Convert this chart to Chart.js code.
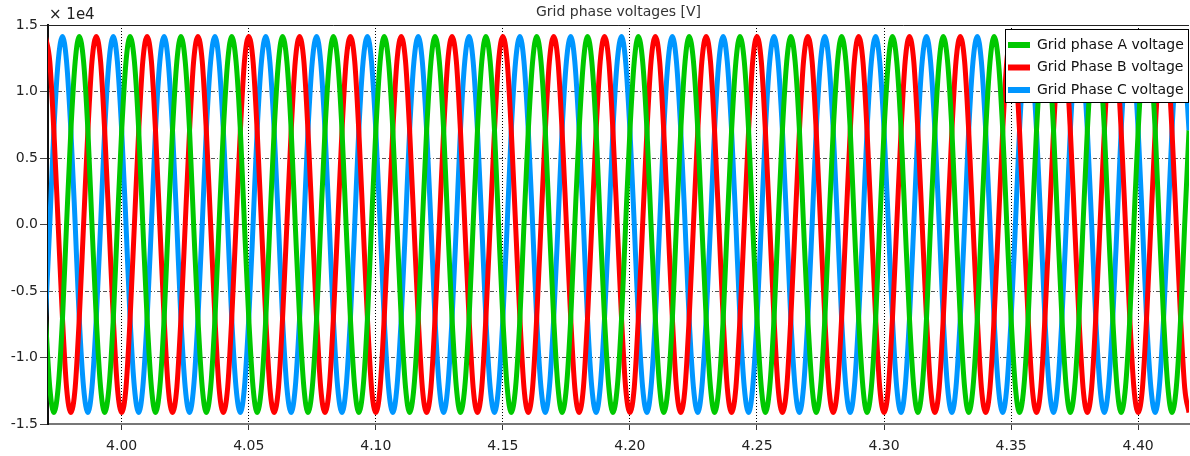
<!DOCTYPE html>
<html>
<head>
<meta charset="utf-8">
<script src="https://cdn.jsdelivr.net/npm/chart.js@4/dist/chart.umd.min.js"></script>
<style>
  body { margin: 0; background: #fff; }
  #wrap { width: 1190px; height: 456px; }
</style>
</head>
<body>
<div id="wrap"><canvas id="myChart" width="1190" height="456"></canvas></div>
<script>
// sample times [s] (50 Hz, 12 samples per cycle)
const times = [
  3.9700,3.9717,3.9733,3.9750,3.9767,3.9783,3.9800,3.9817,3.9833,3.9850,3.9867,3.9883,
  3.9900,3.9917,3.9933,3.9950,3.9967,3.9983,4.0000,4.0017,4.0033,4.0050,4.0067,4.0083,
  4.0100,4.0117,4.0133,4.0150,4.0167,4.0183,4.0200,4.0217,4.0233,4.0250,4.0267,4.0283,
  4.0300,4.0317,4.0333,4.0350,4.0367,4.0383,4.0400,4.0417,4.0433,4.0450,4.0467,4.0483,
  4.0500,4.0517,4.0533,4.0550,4.0567,4.0583,4.0600,4.0617,4.0633,4.0650,4.0667,4.0683,
  4.0700,4.0717,4.0733,4.0750,4.0767,4.0783,4.0800,4.0817,4.0833,4.0850,4.0867,4.0883,
  4.0900,4.0917,4.0933,4.0950,4.0967,4.0983,4.1000,4.1017,4.1033,4.1050,4.1067,4.1083,
  4.1100,4.1117,4.1133,4.1150,4.1167,4.1183,4.1200,4.1217,4.1233,4.1250,4.1267,4.1283,
  4.1300,4.1317,4.1333,4.1350,4.1367,4.1383,4.1400,4.1417,4.1433,4.1450,4.1467,4.1483,
  4.1500,4.1517,4.1533,4.1550,4.1567,4.1583,4.1600,4.1617,4.1633,4.1650,4.1667,4.1683,
  4.1700,4.1717,4.1733,4.1750,4.1767,4.1783,4.1800,4.1817,4.1833,4.1850,4.1867,4.1883,
  4.1900,4.1917,4.1933,4.1950,4.1967,4.1983,4.2000,4.2017,4.2033,4.2050,4.2067,4.2083,
  4.2100,4.2117,4.2133,4.2150,4.2167,4.2183,4.2200,4.2217,4.2233,4.2250,4.2267,4.2283,
  4.2300,4.2317,4.2333,4.2350,4.2367,4.2383,4.2400,4.2417,4.2433,4.2450,4.2467,4.2483,
  4.2500,4.2517,4.2533,4.2550,4.2567,4.2583,4.2600,4.2617,4.2633,4.2650,4.2667,4.2683,
  4.2700,4.2717,4.2733,4.2750,4.2767,4.2783,4.2800,4.2817,4.2833,4.2850,4.2867,4.2883,
  4.2900,4.2917,4.2933,4.2950,4.2967,4.2983,4.3000,4.3017,4.3033,4.3050,4.3067,4.3083,
  4.3100,4.3117,4.3133,4.3150,4.3167,4.3183,4.3200,4.3217,4.3233,4.3250,4.3267,4.3283,
  4.3300,4.3317,4.3333,4.3350,4.3367,4.3383,4.3400,4.3417,4.3433,4.3450,4.3467,4.3483,
  4.3500,4.3517,4.3533,4.3550,4.3567,4.3583,4.3600,4.3617,4.3633,4.3650,4.3667,4.3683,
  4.3700,4.3717,4.3733,4.3750,4.3767,4.3783,4.3800,4.3817,4.3833,4.3850,4.3867,4.3883,
  4.3900,4.3917,4.3933,4.3950,4.3967,4.3983,4.4000,4.4017,4.4033,4.4050,4.4067,4.4083,
  4.4100,4.4117,4.4133,4.4150,4.4167,4.4183,4.4200
];

// voltages in units of 1e4 V
const phaseA = [
  -0.707,-1.225,-1.414,-1.225,-0.707,0,0.707,1.225,1.414,1.225,0.707,0,
  -0.707,-1.225,-1.414,-1.225,-0.707,0,0.707,1.225,1.414,1.225,0.707,0,
  -0.707,-1.225,-1.414,-1.225,-0.707,0,0.707,1.225,1.414,1.225,0.707,0,
  -0.707,-1.225,-1.414,-1.225,-0.707,0,0.707,1.225,1.414,1.225,0.707,0,
  -0.707,-1.225,-1.414,-1.225,-0.707,0,0.707,1.225,1.414,1.225,0.707,0,
  -0.707,-1.225,-1.414,-1.225,-0.707,0,0.707,1.225,1.414,1.225,0.707,0,
  -0.707,-1.225,-1.414,-1.225,-0.707,0,0.707,1.225,1.414,1.225,0.707,0,
  -0.707,-1.225,-1.414,-1.225,-0.707,0,0.707,1.225,1.414,1.225,0.707,0,
  -0.707,-1.225,-1.414,-1.225,-0.707,0,0.707,1.225,1.414,1.225,0.707,0,
  -0.707,-1.225,-1.414,-1.225,-0.707,0,0.707,1.225,1.414,1.225,0.707,0,
  -0.707,-1.225,-1.414,-1.225,-0.707,0,0.707,1.225,1.414,1.225,0.707,0,
  -0.707,-1.225,-1.414,-1.225,-0.707,0,0.707,1.225,1.414,1.225,0.707,0,
  -0.707,-1.225,-1.414,-1.225,-0.707,0,0.707,1.225,1.414,1.225,0.707,0,
  -0.707,-1.225,-1.414,-1.225,-0.707,0,0.707,1.225,1.414,1.225,0.707,0,
  -0.707,-1.225,-1.414,-1.225,-0.707,0,0.707,1.225,1.414,1.225,0.707,0,
  -0.707,-1.225,-1.414,-1.225,-0.707,0,0.707,1.225,1.414,1.225,0.707,0,
  -0.707,-1.225,-1.414,-1.225,-0.707,0,0.707,1.225,1.414,1.225,0.707,0,
  -0.707,-1.225,-1.414,-1.225,-0.707,0,0.707,1.225,1.414,1.225,0.707,0,
  -0.707,-1.225,-1.414,-1.225,-0.707,0,0.707,1.225,1.414,1.225,0.707,0,
  -0.707,-1.225,-1.414,-1.225,-0.707,0,0.707,1.225,1.414,1.225,0.707,0,
  -0.707,-1.225,-1.414,-1.225,-0.707,0,0.707,1.225,1.414,1.225,0.707,0,
  -0.707,-1.225,-1.414,-1.225,-0.707,0,0.707,1.225,1.414,1.225,0.707,0,
  -0.707,-1.225,-1.414,-1.225,-0.707,0,0.707
];

const phaseB = [
  1.414,1.225,0.707,0,-0.707,-1.225,-1.414,-1.225,-0.707,0,0.707,1.225,
  1.414,1.225,0.707,0,-0.707,-1.225,-1.414,-1.225,-0.707,0,0.707,1.225,
  1.414,1.225,0.707,0,-0.707,-1.225,-1.414,-1.225,-0.707,0,0.707,1.225,
  1.414,1.225,0.707,0,-0.707,-1.225,-1.414,-1.225,-0.707,0,0.707,1.225,
  1.414,1.225,0.707,0,-0.707,-1.225,-1.414,-1.225,-0.707,0,0.707,1.225,
  1.414,1.225,0.707,0,-0.707,-1.225,-1.414,-1.225,-0.707,0,0.707,1.225,
  1.414,1.225,0.707,0,-0.707,-1.225,-1.414,-1.225,-0.707,0,0.707,1.225,
  1.414,1.225,0.707,0,-0.707,-1.225,-1.414,-1.225,-0.707,0,0.707,1.225,
  1.414,1.225,0.707,0,-0.707,-1.225,-1.414,-1.225,-0.707,0,0.707,1.225,
  1.414,1.225,0.707,0,-0.707,-1.225,-1.414,-1.225,-0.707,0,0.707,1.225,
  1.414,1.225,0.707,0,-0.707,-1.225,-1.414,-1.225,-0.707,0,0.707,1.225,
  1.414,1.225,0.707,0,-0.707,-1.225,-1.414,-1.225,-0.707,0,0.707,1.225,
  1.414,1.225,0.707,0,-0.707,-1.225,-1.414,-1.225,-0.707,0,0.707,1.225,
  1.414,1.225,0.707,0,-0.707,-1.225,-1.414,-1.225,-0.707,0,0.707,1.225,
  1.414,1.225,0.707,0,-0.707,-1.225,-1.414,-1.225,-0.707,0,0.707,1.225,
  1.414,1.225,0.707,0,-0.707,-1.225,-1.414,-1.225,-0.707,0,0.707,1.225,
  1.414,1.225,0.707,0,-0.707,-1.225,-1.414,-1.225,-0.707,0,0.707,1.225,
  1.414,1.225,0.707,0,-0.707,-1.225,-1.414,-1.225,-0.707,0,0.707,1.225,
  1.414,1.225,0.707,0,-0.707,-1.225,-1.414,-1.225,-0.707,0,0.707,1.225,
  1.414,1.225,0.707,0,-0.707,-1.225,-1.414,-1.225,-0.707,0,0.707,1.225,
  1.414,1.225,0.707,0,-0.707,-1.225,-1.414,-1.225,-0.707,0,0.707,1.225,
  1.414,1.225,0.707,0,-0.707,-1.225,-1.414,-1.225,-0.707,0,0.707,1.225,
  1.414,1.225,0.707,0,-0.707,-1.225,-1.414
];

const phaseC = [
  -0.707,0,0.707,1.225,1.414,1.225,0.707,0,-0.707,-1.225,-1.414,-1.225,
  -0.707,0,0.707,1.225,1.414,1.225,0.707,0,-0.707,-1.225,-1.414,-1.225,
  -0.707,0,0.707,1.225,1.414,1.225,0.707,0,-0.707,-1.225,-1.414,-1.225,
  -0.707,0,0.707,1.225,1.414,1.225,0.707,0,-0.707,-1.225,-1.414,-1.225,
  -0.707,0,0.707,1.225,1.414,1.225,0.707,0,-0.707,-1.225,-1.414,-1.225,
  -0.707,0,0.707,1.225,1.414,1.225,0.707,0,-0.707,-1.225,-1.414,-1.225,
  -0.707,0,0.707,1.225,1.414,1.225,0.707,0,-0.707,-1.225,-1.414,-1.225,
  -0.707,0,0.707,1.225,1.414,1.225,0.707,0,-0.707,-1.225,-1.414,-1.225,
  -0.707,0,0.707,1.225,1.414,1.225,0.707,0,-0.707,-1.225,-1.414,-1.225,
  -0.707,0,0.707,1.225,1.414,1.225,0.707,0,-0.707,-1.225,-1.414,-1.225,
  -0.707,0,0.707,1.225,1.414,1.225,0.707,0,-0.707,-1.225,-1.414,-1.225,
  -0.707,0,0.707,1.225,1.414,1.225,0.707,0,-0.707,-1.225,-1.414,-1.225,
  -0.707,0,0.707,1.225,1.414,1.225,0.707,0,-0.707,-1.225,-1.414,-1.225,
  -0.707,0,0.707,1.225,1.414,1.225,0.707,0,-0.707,-1.225,-1.414,-1.225,
  -0.707,0,0.707,1.225,1.414,1.225,0.707,0,-0.707,-1.225,-1.414,-1.225,
  -0.707,0,0.707,1.225,1.414,1.225,0.707,0,-0.707,-1.225,-1.414,-1.225,
  -0.707,0,0.707,1.225,1.414,1.225,0.707,0,-0.707,-1.225,-1.414,-1.225,
  -0.707,0,0.707,1.225,1.414,1.225,0.707,0,-0.707,-1.225,-1.414,-1.225,
  -0.707,0,0.707,1.225,1.414,1.225,0.707,0,-0.707,-1.225,-1.414,-1.225,
  -0.707,0,0.707,1.225,1.414,1.225,0.707,0,-0.707,-1.225,-1.414,-1.225,
  -0.707,0,0.707,1.225,1.414,1.225,0.707,0,-0.707,-1.225,-1.414,-1.225,
  -0.707,0,0.707,1.225,1.414,1.225,0.707,0,-0.707,-1.225,-1.414,-1.225,
  -0.707,0,0.707,1.225,1.414,1.225,0.707
];

const seriesNames = ["Grid phase A voltage", "Grid Phase B voltage", "Grid Phase C voltage"];
const seriesColors = ["#00c800", "#ff0000", "#0096ff"];
const xTicks = [4.00, 4.05, 4.10, 4.15, 4.20, 4.25, 4.30, 4.35, 4.40];
const yTicks = [-1.5, -1.0, -0.5, 0.0, 0.5, 1.0, 1.5];

const FONT = "'DejaVu Sans', sans-serif";

function toPoints(vals) {
  return vals.map((v, i) => ({ x: times[i], y: v }));
}

const datasets = [phaseA, phaseB, phaseC].map((vals, i) => ({
  label: seriesNames[i],
  data: toPoints(vals),
  borderColor: seriesColors[i],
  backgroundColor: seriesColors[i],
  borderWidth: 5,
  pointRadius: 0,
  cubicInterpolationMode: "monotone",
  fill: false,
  clip: 0,
}));

// title, exponent label, top border and the boxed legend
const extras = {
  id: "extras",
  afterDraw(chart) {
    const ctx = chart.ctx;
    const area = chart.chartArea;
    ctx.save();
    ctx.strokeStyle = "#222";
    ctx.lineWidth = 1;
    ctx.beginPath();
    ctx.moveTo(area.left, area.top + 0.5);
    ctx.lineTo(area.right, area.top + 0.5);
    ctx.stroke();

    ctx.fillStyle = "#333";
    ctx.font = "14px " + FONT;
    ctx.textAlign = "center";
    ctx.textBaseline = "middle";
    ctx.fillText("Grid phase voltages [V]", (area.left + area.right) / 2, 12);

    ctx.fillStyle = "#222";
    ctx.font = "15px " + FONT;
    ctx.textAlign = "left";
    ctx.fillText("\u00d7 1e4", 49, 15);

    // legend box
    const bx = 1005, by = 29, bw = 184, bh = 74;
    ctx.fillStyle = "#fff";
    ctx.fillRect(bx, by, bw, bh);
    ctx.strokeStyle = "#000";
    ctx.strokeRect(bx + 0.5, by + 0.5, bw - 1, bh - 1);
    ctx.font = "14px " + FONT;
    chart.data.datasets.forEach((ds, i) => {
      const y = by + 16 + i * 22.5;
      ctx.strokeStyle = ds.borderColor;
      ctx.lineWidth = 6;
      ctx.beginPath();
      ctx.moveTo(bx + 3, y);
      ctx.lineTo(bx + 25, y);
      ctx.stroke();
      ctx.fillStyle = "#111";
      ctx.fillText(ds.label, bx + 32, y);
    });
    ctx.restore();
  },
};

const config = {
  type: "line",
  data: { datasets: datasets },
  options: {
    responsive: false,
    animation: false,
    layout: { padding: { top: 25, right: 1, left: 0, bottom: 0 } },
    plugins: {
      legend: { display: false },
      title: { display: false },
      tooltip: { enabled: false },
    },
    scales: {
      x: {
        type: "linear",
        min: 3.971,
        max: 4.42,
        afterBuildTicks: (scale) => {
          scale.ticks = xTicks.map((v) => ({ value: v }));
        },
        afterFit: (scale) => {
          scale.height = 32;
        },
        ticks: {
          color: "#222",
          font: { family: FONT, size: 14 },
          padding: 8,
          maxRotation: 0,
          callback: (v) => Number(v).toFixed(2),
        },
        grid: {
          color: "#000",
          lineWidth: 1,
          tickLength: 6,
          tickColor: "#333",
        },
        border: { color: "#777", width: 2, dash: [1, 2] },
      },
      y: {
        min: -1.5,
        max: 1.5,
        afterBuildTicks: (scale) => {
          scale.ticks = yTicks.map((v) => ({ value: v }));
        },
        afterFit: (scale) => {
          scale.width = 48;
        },
        ticks: {
          color: "#222",
          font: { family: FONT, size: 14 },
          padding: 2,
          callback: (v) => Number(v).toFixed(1),
        },
        grid: {
          color: "#555",
          lineWidth: 1,
          tickLength: 8,
          tickColor: "#444",
        },
        border: { color: "#111", width: 2, dash: [4, 2, 1, 2] },
      },
    },
  },
  plugins: [extras],
};

const myChart = new Chart(document.getElementById("myChart"), config);
</script>
</body>
</html>
